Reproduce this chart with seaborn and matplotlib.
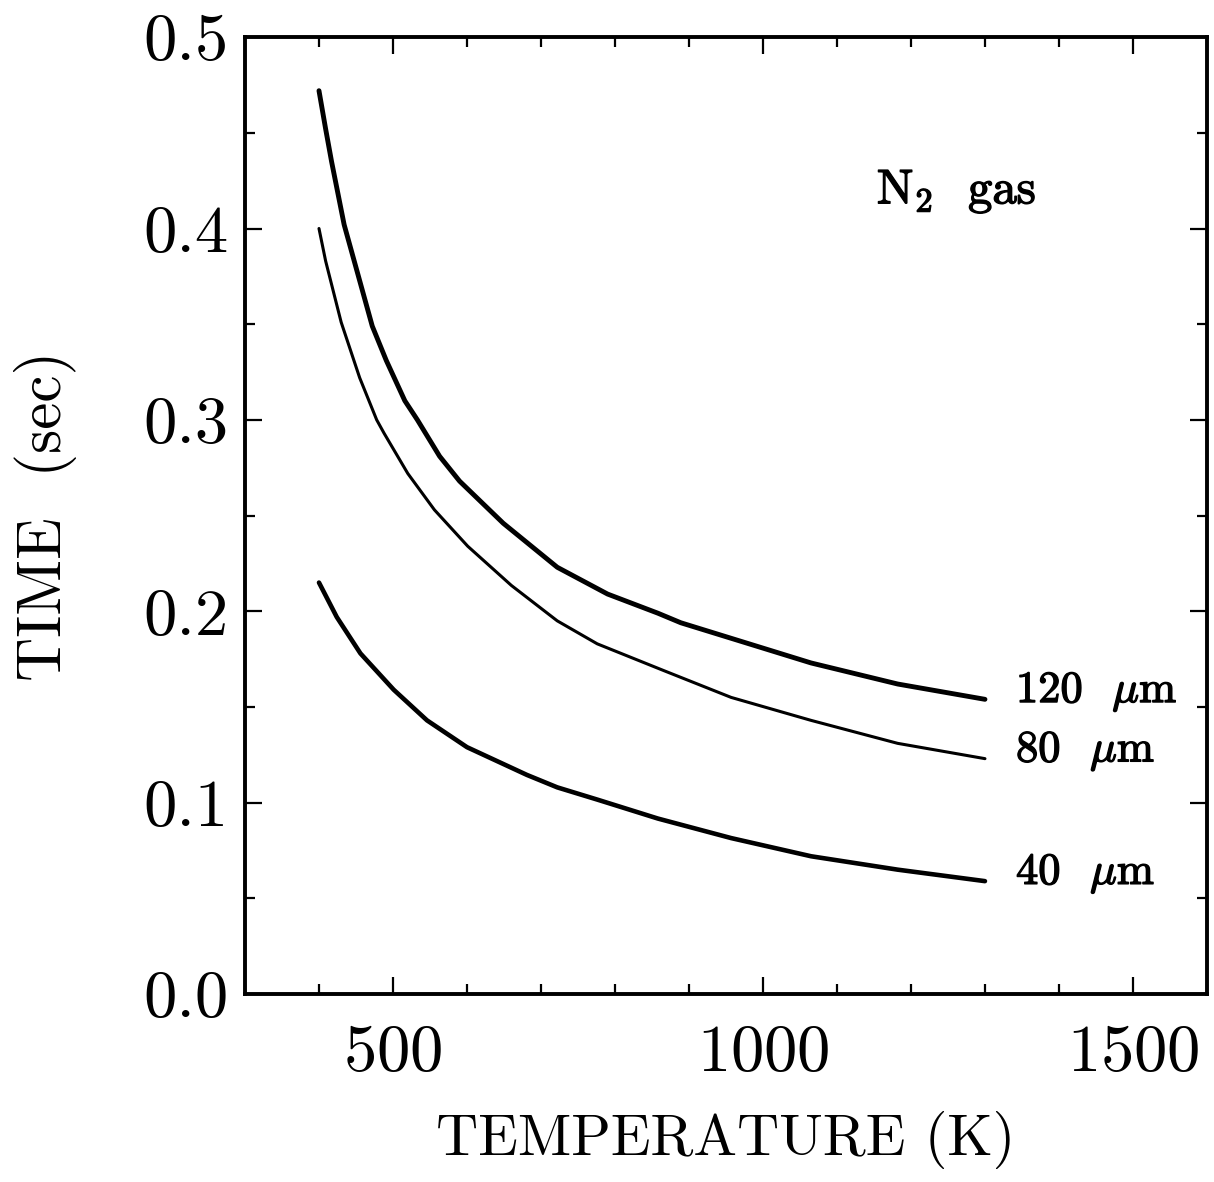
import matplotlib
matplotlib.use("Agg")
import matplotlib.pyplot as plt
import matplotlib.patheffects as pe
from matplotlib.ticker import MultipleLocator, FormatStrFormatter
import seaborn as sns
import pandas as pd

# values (temperature in K, time in s)
temp_120 = [400, 409, 417, 434, 472, 491, 516, 533, 563, 590, 649, 722, 790, 858,
            889, 1065, 1182, 1300]
time_120 = [0.472, 0.452, 0.435, 0.402, 0.349, 0.331, 0.310, 0.300, 0.281, 0.268,
            0.246, 0.223, 0.209, 0.199, 0.194, 0.173, 0.162, 0.154]

temp_80 = [400, 409, 430, 455, 478, 488, 520, 556, 601, 660, 722, 776, 821, 866,
           957, 1065, 1182, 1300]
time_80 = [0.400, 0.383, 0.351, 0.322, 0.300, 0.293, 0.272, 0.253, 0.234, 0.2135,
           0.195, 0.183, 0.176, 0.169, 0.155, 0.143, 0.131, 0.123]

temp_40 = [400, 424, 456, 501, 546, 600, 681, 722, 777, 858, 957, 1065, 1182, 1300]
time_40 = [0.215, 0.197, 0.178, 0.159, 0.143, 0.129, 0.1145, 0.108, 0.1015, 0.0917,
           0.0815, 0.072, 0.065, 0.059]

curve_labels = [r'120  $\mu$m', r'80  $\mu$m', r'40  $\mu$m']
curve_widths = [3.5, 2.2, 3.3]

sns.set_style("ticks")
plt.rcParams['font.family'] = ['cmr10']
plt.rcParams['mathtext.fontset'] = 'cm'
plt.rcParams['axes.formatter.use_mathtext'] = True
plt.rcParams['text.color'] = 'black'

fig = plt.figure(figsize=(12.14, 11.82), dpi=100)
ax = fig.add_axes([0.2018, 0.159, 0.7924, 0.8096])

bold = [pe.withStroke(linewidth=1.0, foreground='black')]
series = [(temp_120, time_120), (temp_80, time_80), (temp_40, time_40)]
for (tx, ty), lab, lw in zip(series, curve_labels, curve_widths):
    df = pd.DataFrame({'T': tx, 't': ty})
    sns.lineplot(data=df, x='T', y='t', ax=ax, color='black', lw=lw,
                 solid_capstyle='round', solid_joinstyle='round',
                 estimator=None, sort=False)
    # label sits just right of the curve end
    ax.text(tx[-1] + 42, ty[-1] - 0.0015, lab, fontsize=32, va='baseline',
            ha='left', path_effects=bold)

ax.text(1154, 0.413, r'N$_2$  gas', fontsize=35, va='baseline', ha='left',
        path_effects=bold)

ax.set_xlim(300, 1600)
ax.set_ylim(0, 0.5)
ax.xaxis.set_major_locator(MultipleLocator(500))
ax.xaxis.set_minor_locator(MultipleLocator(100))
ax.yaxis.set_major_locator(MultipleLocator(0.1))
ax.yaxis.set_minor_locator(MultipleLocator(0.05))
ax.yaxis.set_major_formatter(FormatStrFormatter('%.1f'))

for s in ax.spines.values():
    s.set_linewidth(2.8)
    s.set_color('black')
    s.set_visible(True)
ax.tick_params(which='both', direction='in', top=True, right=True, width=1.6,
               color='black', labelcolor='black', labelsize=48)
ax.tick_params(which='major', length=12)
ax.tick_params(which='minor', length=7)
ax.tick_params(axis='x', pad=22)
ax.tick_params(axis='y', pad=12)

ax.set_xlabel('TEMPERATURE (K)', fontsize=42, color='black')
ax.set_ylabel('TIME  (sec)', fontsize=44, color='black')
ax.xaxis.set_label_coords(0.5, -0.122)
ax.yaxis.set_label_coords(-0.175, 0.50)

fig.savefig('out.png', dpi=100, facecolor='white')
